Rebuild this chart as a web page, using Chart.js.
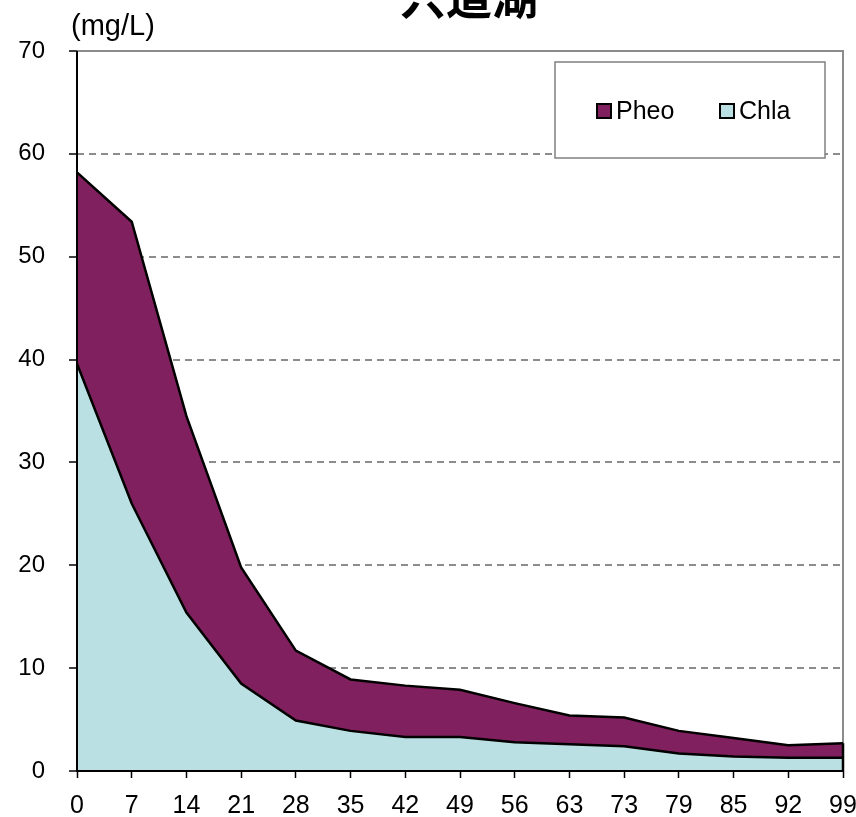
<!DOCTYPE html>
<html>
<head>
<meta charset="utf-8">
<script src="https://cdn.jsdelivr.net/npm/chart.js@4.4.1/dist/chart.umd.min.js"></script>
<style>
  html, body { margin: 0; padding: 0; background: #fff; }
  #wrap { width: 856px; height: 817px; }
</style>
</head>
<body>
<div id="wrap"><canvas id="graph"></canvas></div>
<script>
// days
var labels = ["0","7","14","21","28","35","42","49","56","63","73","79","85","92","99"];
// mg/L
var chla = [39.6, 26.0, 15.4, 8.5, 4.9, 3.9, 3.3, 3.3, 2.8, 2.6, 2.4, 1.7, 1.4, 1.3, 1.3];
var pheo = [18.6, 27.4, 19.1, 11.3, 6.8, 5.0, 5.0, 4.6, 3.8, 2.8, 2.8, 2.2, 1.8, 1.2, 1.4];
var yTicks = [0, 10, 20, 30, 40, 50, 60, 70];

var titleText = "宍道湖";
var unitText = "(mg/L)";
var tickFont = "'Liberation Sans', Arial, sans-serif";

// frame, unit, title and boxed legend (Excel style)
var excelBits = {
  id: 'excelBits',
  beforeDatasetsDraw: function(chart) {
    var c = chart.ctx, a = chart.chartArea;
    c.save();
    c.strokeStyle = '#8c8c8c';
    c.lineWidth = 2;
    c.beginPath();
    c.moveTo(a.left, a.top);
    c.lineTo(a.right, a.top);
    c.lineTo(a.right, a.bottom);
    c.stroke();
    c.restore();
  },
  afterDatasetsDraw: function(chart) {
    var c = chart.ctx, a = chart.chartArea;
    var x = chart.scales.x, y = chart.scales.y;
    var last = labels.length - 1;
    c.save();
    c.strokeStyle = '#000';
    c.lineWidth = 2.5;
    // right edge of the stacked areas
    c.beginPath();
    c.moveTo(x.getPixelForValue(last), y.getPixelForValue(chla[last] + pheo[last]));
    c.lineTo(x.getPixelForValue(last), a.bottom);
    c.stroke();
    // axes on top
    c.lineWidth = 2;
    c.beginPath();
    c.moveTo(a.left, a.top);
    c.lineTo(a.left, a.bottom);
    c.lineTo(a.right, a.bottom);
    c.stroke();
    c.restore();
  },
  afterDraw: function(chart) {
    var c = chart.ctx;
    c.save();
    c.fillStyle = '#000';
    c.font = "bold 46px 'Noto Sans CJK JP', sans-serif";
    c.textAlign = 'center';
    c.textBaseline = 'alphabetic';
    c.fillText(titleText, 469, 14);

    c.font = "29px 'Liberation Sans', Arial, sans-serif";
    c.textAlign = 'left';
    c.textBaseline = 'middle';
    c.fillText(unitText, 71, 27);

    // legend box
    c.fillStyle = '#fff';
    c.fillRect(555, 62, 270, 96);
    c.strokeStyle = '#808080';
    c.lineWidth = 1.5;
    c.strokeRect(555, 62, 270, 96);

    var items = chart.data.datasets.slice().reverse();
    var xs = [597, 720];
    c.font = "25px 'Liberation Sans', Arial, sans-serif";
    items.forEach(function(ds, i) {
      c.fillStyle = ds.backgroundColor;
      c.fillRect(xs[i], 104, 14, 14);
      c.strokeStyle = '#000';
      c.lineWidth = 2;
      c.strokeRect(xs[i], 104, 14, 14);
      c.fillStyle = '#000';
      c.textBaseline = 'middle';
      c.fillText(ds.label, xs[i] + 19, 112);
    });
    c.restore();
  }
};

new Chart("graph", {
  type: "line",
  data: {
    labels: labels,
    datasets: [{
      label: "Chla",
      data: chla,
      backgroundColor: "#bae0e3",
      borderColor: "#000",
      borderWidth: 2.5,
      fill: 'origin',
      tension: 0,
      pointRadius: 0
    }, {
      label: "Pheo",
      data: pheo,
      backgroundColor: "#80205e",
      borderColor: "#000",
      borderWidth: 2.5,
      fill: '-1',
      tension: 0,
      pointRadius: 0
    }]
  },
  options: {
    responsive: true,
    maintainAspectRatio: false,
    animation: false,
    layout: { padding: { top: 51, right: 13, left: 0, bottom: 0 } },
    plugins: {
      legend: { display: false },
      title: { display: false },
      tooltip: { enabled: false }
    },
    scales: {
      x: {
        stacked: true,
        offset: false,
        afterFit: function(s) { s.height = 46; s.paddingLeft = 0; s.paddingRight = 0; },
        grid: { drawOnChartArea: false, drawTicks: true, tickLength: 7, tickColor: '#000', tickWidth: 1.5 },
        border: { display: false },
        ticks: { color: '#000', font: { family: tickFont, size: 25 }, padding: 13, maxRotation: 0, autoSkip: false }
      },
      y: {
        stacked: true,
        min: 0,
        max: 70,
        afterFit: function(s) { s.width = 77; },
        afterBuildTicks: function(s) { s.ticks = yTicks.map(function(v) { return { value: v }; }); },
        grid: {
          color: function(ctx) { return (ctx.tick.value === 0 || ctx.tick.value === 70) ? 'rgba(0,0,0,0)' : '#8c8c8c'; },
          lineWidth: 2,
          tickColor: '#000',
          tickWidth: 1.5,
          tickLength: 8,
          tickBorderDash: []
        },
        border: { display: false, dash: [7, 5] },
        ticks: { color: '#000', font: { family: tickFont, size: 24 }, padding: 24 }
      }
    }
  },
  plugins: [excelBits]
});
</script>
</body>
</html>
